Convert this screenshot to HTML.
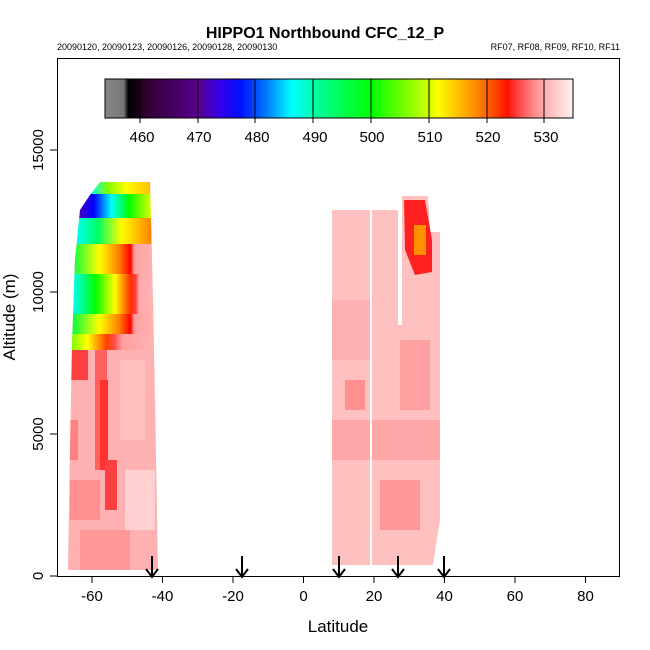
<!DOCTYPE html>
<html><head><style>body{margin:0;background:#fff}svg{display:block}text{font-family:"Liberation Sans",sans-serif}</style></head><body>
<svg width="650" height="650" viewBox="0 0 650 650">
<defs>
<linearGradient id="cb" x1="105" x2="573" gradientUnits="userSpaceOnUse">
<stop offset="0" stop-color="#888"/><stop offset="0.04" stop-color="#777"/><stop offset="0.05" stop-color="#000"/><stop offset="0.09" stop-color="#300030"/><stop offset="0.2" stop-color="#5a0090"/><stop offset="0.25" stop-color="#3000f0"/><stop offset="0.29" stop-color="#0010ff"/><stop offset="0.34" stop-color="#0070ff"/><stop offset="0.4" stop-color="#00ffff"/><stop offset="0.46" stop-color="#00ff90"/><stop offset="0.57" stop-color="#00ff00"/><stop offset="0.7" stop-color="#e0ff00"/><stop offset="0.71" stop-color="#ffff00"/><stop offset="0.8" stop-color="#ff8000"/><stop offset="0.845" stop-color="#ff3000"/><stop offset="0.86" stop-color="#ff1000"/><stop offset="0.88" stop-color="#ff4040"/><stop offset="0.92" stop-color="#ff9090"/><stop offset="0.96" stop-color="#ffc8c8"/><stop offset="1" stop-color="#fff0f0"/></linearGradient>
<linearGradient id="g1" x1="90" x2="150" gradientUnits="userSpaceOnUse"><stop offset="0" stop-color="#00ffff"/><stop offset="0.3" stop-color="#80ff00"/><stop offset="0.6" stop-color="#ffff00"/><stop offset="1" stop-color="#ffc000"/></linearGradient>
<linearGradient id="g2" x1="80" x2="150" gradientUnits="userSpaceOnUse"><stop offset="0" stop-color="#4000c0"/><stop offset="0.2" stop-color="#0000ff"/><stop offset="0.45" stop-color="#00ffff"/><stop offset="0.7" stop-color="#00ff00"/><stop offset="1" stop-color="#d0ff00"/></linearGradient>
<linearGradient id="g3" x1="75" x2="152" gradientUnits="userSpaceOnUse"><stop offset="0" stop-color="#00ffff"/><stop offset="0.3" stop-color="#00ff60"/><stop offset="0.6" stop-color="#ffff00"/><stop offset="1" stop-color="#ff8000"/></linearGradient>
<linearGradient id="g4" x1="72" x2="150" gradientUnits="userSpaceOnUse"><stop offset="0" stop-color="#00ff40"/><stop offset="0.35" stop-color="#ffff00"/><stop offset="0.6" stop-color="#ff8000"/><stop offset="0.75" stop-color="#ff0000"/><stop offset="0.8" stop-color="#ffa0a0"/><stop offset="1" stop-color="#ffb0b0"/></linearGradient>
<linearGradient id="g5" x1="72" x2="150" gradientUnits="userSpaceOnUse"><stop offset="0" stop-color="#00ffff"/><stop offset="0.3" stop-color="#00ff00"/><stop offset="0.55" stop-color="#ffff00"/><stop offset="0.75" stop-color="#ff3000"/><stop offset="0.82" stop-color="#ff4040"/><stop offset="0.86" stop-color="#ffa8a8"/><stop offset="1" stop-color="#ffb0b0"/></linearGradient>
<linearGradient id="g6" x1="72" x2="150" gradientUnits="userSpaceOnUse"><stop offset="0" stop-color="#80ff00"/><stop offset="0.2" stop-color="#ffff00"/><stop offset="0.45" stop-color="#ff4000"/><stop offset="0.55" stop-color="#ff5050"/><stop offset="0.65" stop-color="#ffa0a0"/><stop offset="1" stop-color="#ffb0b0"/></linearGradient>
<clipPath id="lc"><polygon points="100,182 150,182 152,260 155,400 158,570 68,570 70,450 72,345 75,260 80,210 90,195"/></clipPath>
</defs>
<text x="325" y="38" font-size="16" font-weight="bold" text-anchor="middle">HIPPO1 Northbound CFC_12_P</text>
<text x="57" y="50" font-size="9">20090120, 20090123, 20090126, 20090128, 20090130</text>
<text x="620" y="50" font-size="9" text-anchor="end">RF07, RF08, RF09, RF10, RF11</text>
<g clip-path="url(#lc)">
<rect x="60" y="180" width="100" height="400" fill="#ffb0b0"/>
<rect x="60" y="180" width="100" height="14" fill="url(#g1)"/>
<rect x="60" y="194" width="100" height="24" fill="url(#g2)"/>
<rect x="60" y="218" width="100" height="26" fill="url(#g3)"/>
<rect x="60" y="244" width="100" height="30" fill="url(#g4)"/>
<rect x="60" y="274" width="100" height="40" fill="url(#g5)"/>
<rect x="60" y="314" width="100" height="20" fill="url(#g4)"/>
<rect x="60" y="334" width="100" height="16" fill="url(#g6)"/>
<rect x="68" y="350" width="20" height="30" fill="#ff4040"/>
<rect x="95" y="350" width="12" height="120" fill="#ff6060"/>
<rect x="100" y="380" width="8" height="90" fill="#ff3030"/>
<rect x="105" y="460" width="12" height="50" fill="#ff4040"/>
<rect x="68" y="420" width="10" height="40" fill="#ff8080"/>
<rect x="120" y="360" width="25" height="80" fill="#ffc0c0"/>
<rect x="125" y="470" width="30" height="60" fill="#ffd0d0"/>
<rect x="70" y="480" width="30" height="40" fill="#ff9090"/>
<rect x="80" y="530" width="50" height="40" fill="#ff9898"/>
</g>
<polygon points="332,210 398,210 398,325 402,325 402,196 428,196 430,232 440,232 440,520 433,565 332,565" fill="#ffc0c0"/>
<rect x="332" y="300" width="40" height="60" fill="#ffb0b0"/>
<rect x="332" y="420" width="108" height="40" fill="#ffa8a8"/>
<rect x="380" y="480" width="40" height="50" fill="#ff9898"/>
<rect x="400" y="340" width="30" height="70" fill="#ffa0a0"/>
<rect x="345" y="380" width="20" height="30" fill="#ff9090"/>
<polygon points="404,200 425,200 432,240 432,272 415,275 405,250" fill="#ff2020"/>
<rect x="414" y="225" width="12" height="30" fill="#ff9000"/>
<rect x="370" y="210" width="2" height="355" fill="#fff"/>
<rect x="105" y="79" width="468" height="39" fill="url(#cb)" stroke="#000"/>
<g stroke="#000" stroke-width="1">
<line x1="140" y1="79" x2="140" y2="123"/><line x1="198" y1="79" x2="198" y2="123"/><line x1="255" y1="79" x2="255" y2="123"/><line x1="313" y1="79" x2="313" y2="123"/><line x1="371" y1="79" x2="371" y2="123"/><line x1="429" y1="79" x2="429" y2="123"/><line x1="487" y1="79" x2="487" y2="123"/><line x1="544" y1="79" x2="544" y2="123"/>
</g>
<g font-size="15" text-anchor="middle">
<text x="142" y="142">460</text><text x="199" y="142">470</text><text x="257" y="142">480</text><text x="315" y="142">490</text><text x="372" y="142">500</text><text x="430" y="142">510</text><text x="488" y="142">520</text><text x="546" y="142">530</text>
</g>
<rect x="57.5" y="58.5" width="562" height="518" fill="none" stroke="#000"/>
<g stroke="#000">
<line x1="92" y1="576" x2="92" y2="583"/><line x1="162.5" y1="576" x2="162.5" y2="583"/><line x1="233" y1="576" x2="233" y2="583"/><line x1="303.5" y1="576" x2="303.5" y2="583"/><line x1="374" y1="576" x2="374" y2="583"/><line x1="444.5" y1="576" x2="444.5" y2="583"/><line x1="515" y1="576" x2="515" y2="583"/><line x1="585.5" y1="576" x2="585.5" y2="583"/>
<line x1="50" y1="576" x2="57" y2="576"/><line x1="50" y1="434" x2="57" y2="434"/><line x1="50" y1="292" x2="57" y2="292"/><line x1="50" y1="150" x2="57" y2="150"/>
</g>
<g font-size="15" text-anchor="middle">
<text x="92" y="601">-60</text><text x="162.5" y="601">-40</text><text x="233" y="601">-20</text><text x="303.5" y="601">0</text><text x="374" y="601">20</text><text x="444.5" y="601">40</text><text x="515" y="601">60</text><text x="585.5" y="601">80</text>
<text transform="translate(43,576) rotate(-90)">0</text><text transform="translate(43,434) rotate(-90)">5000</text><text transform="translate(43,292) rotate(-90)">10000</text><text transform="translate(43,150) rotate(-90)">15000</text>
</g>
<text x="338" y="632" font-size="17" text-anchor="middle">Latitude</text>
<text transform="translate(15,317) rotate(-90)" font-size="17" text-anchor="middle">Altitude (m)</text>
<g stroke="#000" stroke-width="2" fill="none">
<path d="M152,556V577M146,569L152,577L158,569"/>
<path d="M242,556V577M236,569L242,577L248,569"/>
<path d="M339,556V577M333,569L339,577L345,569"/>
<path d="M398,556V577M392,569L398,577L404,569"/>
<path d="M444,556V577M438,569L444,577L450,569"/>
</g>
</svg>
</body></html>
